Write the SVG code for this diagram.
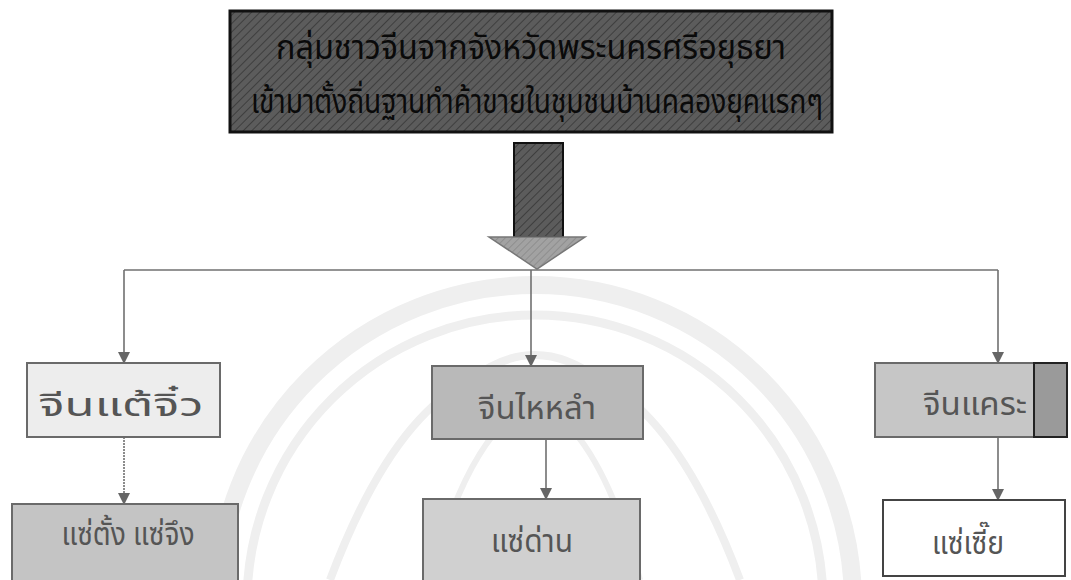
<svg xmlns="http://www.w3.org/2000/svg" width="1071" height="580" viewBox="0 0 1071 580">
<defs>
<style>
.lbl{font-family:"Noto Sans Thai","Noto Sans","DejaVu Sans",sans-serif;font-size:32px;fill:#555;text-anchor:middle}
.top{font-family:"Noto Sans Thai","Noto Sans","DejaVu Sans",sans-serif;font-size:34px;fill:#0a0a0a;text-anchor:middle}
.box{stroke:#6a6a6a;stroke-width:2}
.con{stroke:#707070;stroke-width:1.6;fill:none}
.wm{fill:none;stroke:#efefef}
</style>
<pattern id="hatch" width="6" height="6" patternUnits="userSpaceOnUse" patternTransform="rotate(45)">
<rect width="6" height="6" fill="#5c5c5c"/>
<line x1="0" y1="0" x2="0" y2="6" stroke="#3e3e3e" stroke-width="2"/>
</pattern>
<pattern id="hatch2" width="5" height="5" patternUnits="userSpaceOnUse" patternTransform="rotate(45)">
<rect width="5" height="5" fill="#a2a2a2"/>
<line x1="0" y1="0" x2="0" y2="5" stroke="#888" stroke-width="1.5"/>
</pattern>
<marker id="ah" markerWidth="12" markerHeight="12" refX="11" refY="6" orient="auto" markerUnits="userSpaceOnUse">
<path d="M0,0 L12,6 L0,12 Z" fill="#666"/>
</marker>
</defs>
<rect width="1071" height="580" fill="#fff"/>
<g id="watermark">
<circle class="wm" cx="535" cy="603" r="318" stroke-width="18"/>
<circle class="wm" cx="535" cy="603" r="288" stroke-width="9"/>
<path class="wm" stroke-width="8" d="M330,580 Q390,420 470,380 Q535,330 600,380 Q680,420 740,580"/>
<path class="wm" stroke-width="6" d="M430,580 Q470,430 535,400 Q600,430 640,580"/>
</g>
<g id="connectors">
<line class="con" x1="124" y1="270" x2="998" y2="270"/>
<line class="con" x1="124" y1="270" x2="124" y2="363" marker-end="url(#ah)"/>
<line class="con" x1="531" y1="270" x2="531" y2="366" marker-end="url(#ah)"/>
<line class="con" x1="998" y1="270" x2="998" y2="363" marker-end="url(#ah)"/>
<line class="con" x1="124" y1="437" x2="124" y2="504" marker-end="url(#ah)" stroke-dasharray="2 1"/>
<line class="con" x1="546" y1="439" x2="546" y2="499" marker-end="url(#ah)"/>
<line class="con" x1="998" y1="437" x2="998" y2="500" marker-end="url(#ah)"/>
</g>
<g id="arrow">
<rect x="514" y="143" width="49" height="94" fill="url(#hatch)" stroke="#111" stroke-width="2"/>
<path d="M489,237 L585,237 L537,269 Z" fill="url(#hatch2)" stroke="#777" stroke-width="1.5"/>
</g>
<g id="n-top">
<rect x="230" y="11" width="602" height="121" fill="url(#hatch)" stroke="#111" stroke-width="3"/>
<text class="top" x="531" y="59" textLength="510" lengthAdjust="spacingAndGlyphs">กลุ่มชาวจีนจากจังหวัดพระนครศรีอยุธยา</text>
<text class="top" x="537" y="113" textLength="572" lengthAdjust="spacingAndGlyphs">เข้ามาตั้งถิ่นฐานทำค้าขายในชุมชนบ้านคลองยุคแรกๆ</text>
</g>
<g id="n-taechiew">
<rect class="box" x="27" y="363" width="193" height="74" fill="#ededed"/>
<text class="lbl" x="121" y="416" textLength="165" lengthAdjust="spacingAndGlyphs">จีนแต้จิ๋ว</text>
</g>
<g id="n-hainan">
<rect class="box" x="432" y="366" width="211" height="73" fill="#b9b9b9"/>
<text class="lbl" x="537" y="419" textLength="118" lengthAdjust="spacingAndGlyphs">จีนไหหลำ</text>
</g>
<g id="n-hakka">
<rect class="box" x="875" y="363" width="192" height="74" fill="#c6c6c6"/>
<rect x="1034" y="363" width="33" height="74" fill="#9a9a9a" stroke="#222" stroke-width="2"/>
<text class="lbl" x="975" y="415" textLength="104" lengthAdjust="spacingAndGlyphs">จีนแคระ</text>
</g>
<g id="n-sae-tang">
<rect class="box" x="12" y="504" width="226" height="80" fill="#c4c4c4"/>
<text class="lbl" x="128" y="545" textLength="133" lengthAdjust="spacingAndGlyphs">แซ่ตั้ง แซ่จึง</text>
</g>
<g id="n-sae-dan">
<rect class="box" x="423" y="499" width="217" height="85" fill="#d0d0d0"/>
<text class="lbl" x="532" y="552" textLength="82" lengthAdjust="spacingAndGlyphs">แซ่ด่าน</text>
</g>
<g id="n-sae-sia">
<rect x="883" y="500" width="182" height="76" fill="#fff" stroke="#444" stroke-width="2"/>
<text class="lbl" x="968" y="554" textLength="72" lengthAdjust="spacingAndGlyphs">แซ่เซี๊ย</text>
</g>
</svg>
